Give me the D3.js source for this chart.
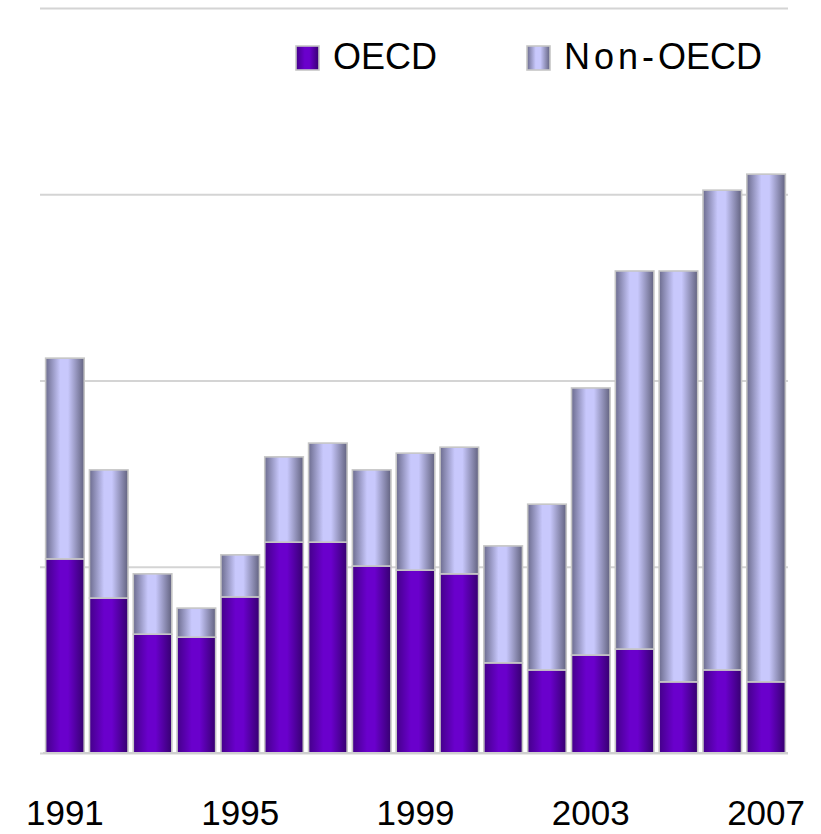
<!DOCTYPE html>
<html lang="en">
<head>
    <meta charset="utf-8">
    <title>OECD vs Non-OECD</title>
    <script src="https://cdn.jsdelivr.net/npm/d3@7"></script>
    <style>
        body { margin: 0; background: #fff; }
        text { font-family: "Liberation Sans", Arial, sans-serif; fill: #000; }
    </style>
</head>
<body>
<svg></svg>
<script>
    // values (arbitrary units, gridline step = 50)
    const years = ["1991", "1992", "1993", "1994", "1995", "1996", "1997", "1998", "1999",
        "2000", "2001", "2002", "2003", "2004", "2005", "2006", "2007"];
    const oecd = [52.1, 41.6, 31.9, 31.1, 41.9, 56.6, 56.6, 50.2, 49.1,
        48.1, 24.2, 22.3, 26.3, 27.9, 19.1, 22.3, 19.1];
    const nonOecd = [53.9, 34.4, 16.2, 7.8, 11.3, 22.9, 26.6, 25.8, 31.4,
        34.0, 31.4, 44.5, 71.7, 101.5, 110.3, 128.8, 136.3];
    const yTicks = [0, 50, 100, 150, 200];
    const xLabels = ["1991", "1995", "1999", "2003", "2007"];
    const seriesNames = ["OECD", "Non-OECD"];

    const svgSize = {width: 821, height: 834};
    const plot = {left: 43, right: 788, top: 8, bottom: 753};

    const svg = d3.select("svg").attr("width", svgSize.width).attr("height", svgSize.height);

    const data = years.map((y, i) => ({year: y, "OECD": oecd[i], "Non-OECD": nonOecd[i]}));
    const stacked = d3.stack().keys(seriesNames)(data);

    const xScale = d3.scaleBand()
        .domain(years)
        .range([plot.left, plot.right])
        .paddingInner(0.12)
        .paddingOuter(0.06);

    const yScale = d3.scaleLinear()
        .domain([0, 200])
        .range([plot.bottom, plot.top]);

    // gradients: dark at the edges, light in the middle
    const defs = svg.append("defs");
    const grads = {
        "OECD": {id: "g-oecd", edgeL: "#44008a", mid: "#6a00cc", edgeR: "#360070"},
        "Non-OECD": {id: "g-non", edgeL: "#6c6c8e", mid: "#c8c8fc", edgeR: "#62627f"}
    };
    Object.values(grads).forEach(g => {
        const lg = defs.append("linearGradient").attr("id", g.id)
            .attr("x1", "0%").attr("x2", "100%").attr("y1", "0%").attr("y2", "0%");
        lg.append("stop").attr("offset", "0%").attr("stop-color", g.edgeL);
        lg.append("stop").attr("offset", "38%").attr("stop-color", g.mid);
        lg.append("stop").attr("offset", "58%").attr("stop-color", g.mid);
        lg.append("stop").attr("offset", "100%").attr("stop-color", g.edgeR);
    });

    // gridlines + small tick stubs on the left
    const yAxis = d3.axisLeft(yScale)
        .tickValues(yTicks)
        .tickSize(-(plot.right - plot.left))
        .tickSizeOuter(0)
        .tickFormat("");
    const gy = svg.append("g")
        .attr("transform", `translate(${plot.left},0)`)
        .call(yAxis);
    gy.select(".domain").remove();
    gy.selectAll(".tick line")
        .attr("x1", -3)
        .attr("stroke", "#d4d4d4")
        .attr("stroke-width", 2);

    // bars
    svg.append("g")
        .selectAll("g")
        .data(stacked)
        .join("g")
        .attr("fill", d => `url(#${grads[d.key].id})`)
        .selectAll("rect")
        .data(d => d)
        .join("rect")
        .attr("x", d => xScale(d.data.year))
        .attr("y", d => yScale(d[1]))
        .attr("width", xScale.bandwidth())
        .attr("height", d => yScale(d[0]) - yScale(d[1]))
        .attr("stroke", "#c6c6c6")
        .attr("stroke-width", 1.6);

    // baseline
    svg.append("line")
        .attr("x1", plot.left).attr("x2", plot.right)
        .attr("y1", yScale(0)).attr("y2", yScale(0))
        .attr("stroke", "#cfcfcf")
        .attr("stroke-width", 2);

    // x labels
    const xAxis = d3.axisBottom(xScale)
        .tickValues(xLabels)
        .tickSize(0)
        .tickPadding(0);
    const gx = svg.append("g")
        .attr("transform", `translate(0,${plot.bottom})`)
        .call(xAxis);
    gx.select(".domain").remove();
    gx.selectAll(".tick text")
        .attr("y", 72)
        .attr("dy", null)
        .attr("font-size", "35px")
        .attr("font-family", "'Liberation Sans', Arial, sans-serif")
        .attr("fill", "#000");

    // legend
    const legendPos = [296, 527];
    const legend = svg.append("g")
        .selectAll("g")
        .data(seriesNames)
        .join("g")
        .attr("transform", (d, i) => `translate(${legendPos[i]},46)`);
    legend.append("rect")
        .attr("width", 23)
        .attr("height", 24)
        .attr("fill", d => `url(#${grads[d].id})`)
        .attr("stroke", "#c6c6c6")
        .attr("stroke-width", 1.6);
    const legendText = legend.append("text")
        .attr("x", 37)
        .attr("y", 23)
        .attr("font-size", "36px");
    // "Non-" is spaced out a bit wider in the original
    legendText.each(function (d) {
        const t = d3.select(this);
        const idx = d.indexOf("OECD");
        if (idx > 0) {
            t.append("tspan").attr("letter-spacing", "4px").text(d.slice(0, idx));
            t.append("tspan").text(d.slice(idx));
        } else {
            t.text(d);
        }
    });
</script>
</body>
</html>
